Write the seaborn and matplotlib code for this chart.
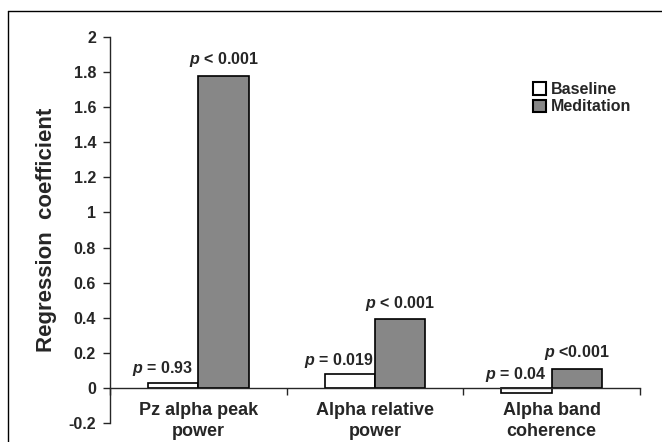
import pandas as pd
import matplotlib
matplotlib.use("Agg")
import matplotlib.pyplot as plt
from matplotlib.lines import Line2D
from matplotlib.patches import Patch
import seaborn as sns

# данные
categories = ["Pz alpha peak\npower", "Alpha relative\npower", "Alpha band\ncoherence"]
conditions = ["Baseline", "Meditation"]
baseline_vals = [0.03, 0.08, -0.03]
meditation_vals = [1.78, 0.39, 0.11]
baseline_p = ["$p$ = 0.93", "$p$ = 0.019", "$p$ = 0.04"]
meditation_p = ["$p$ < 0.001", "$p$ < 0.001", "$p$ <$\\mathit{0}$.001"]
yticks = [-0.2, 0, 0.2, 0.4, 0.6, 0.8, 1, 1.2, 1.4, 1.6, 1.8, 2]

df = pd.DataFrame({
    "category": categories * 2,
    "condition": ["Baseline"] * 3 + ["Meditation"] * 3,
    "value": baseline_vals + meditation_vals,
})

sns.set_style("ticks")
plt.rcParams["font.family"] = ["Liberation Sans", "DejaVu Sans"]
plt.rcParams["font.weight"] = "bold"
plt.rcParams["axes.unicode_minus"] = False
plt.rcParams["mathtext.fontset"] = "custom"
plt.rcParams["mathtext.it"] = "Liberation Sans:bold:italic"
plt.rcParams["mathtext.rm"] = "Liberation Sans:bold"

colors = {"Baseline": "white", "Meditation": "#878787"}

fig = plt.figure(figsize=(6.62, 4.42), dpi=100)
ax = fig.add_axes([110 / 662, 1 - 423 / 442, 530 / 662, (423 - 37) / 442])

sns.barplot(data=df, x="category", y="value", hue="condition", palette=colors,
            width=0.57, edgecolor="black", linewidth=1.2, ax=ax, legend=False)

ax.set_xlim(-0.5, 2.5)
ax.set_ylim(-0.2, 2.0)
ax.set_yticks(yticks)
ax.set_yticklabels([f"{v:g}" for v in yticks], fontsize=11.5, fontweight="bold")

ax.spines["top"].set_visible(False)
ax.spines["right"].set_visible(False)
ax.spines["bottom"].set_position(("data", 0))
ax.spines["left"].set_linewidth(1.0)
ax.spines["bottom"].set_linewidth(1.0)

ax.set_xticks(range(3))
ax.set_xticklabels(categories, fontsize=13, fontweight="bold", linespacing=1.3)
ax.tick_params(axis="x", which="major", length=0, pad=10)
ax.set_xticks([-0.5, 0.5, 1.5, 2.5], minor=True)
ax.tick_params(axis="x", which="minor", direction="out", length=5, width=1)
ax.tick_params(axis="y", direction="out", length=5, width=1, pad=5)

ax.set_xlabel("")
ax.set_ylabel("Regression  coefficient", fontsize=16, fontweight="bold", labelpad=8)

# подписи p-значений
for i in range(3):
    xb = i - 0.57 / 4
    xm = i + 0.57 / 4
    ax.annotate(baseline_p[i], (xb, max(baseline_vals[i], 0)), xytext=(-8, 3),
                textcoords="offset points", ha="center", va="bottom",
                fontsize=11.5, fontweight="bold")
    ax.annotate(meditation_p[i], (xm, meditation_vals[i]), xytext=(0, 5),
                textcoords="offset points", ha="center", va="bottom",
                fontsize=11.5, fontweight="bold")

handles = [Patch(facecolor=colors[c], edgecolor="black", linewidth=1.5) for c in conditions]
ax.legend(handles, conditions, loc="upper left", bbox_to_anchor=(0.786, 0.90),
          frameon=False, handlelength=0.8, handleheight=0.8, handletextpad=0.3,
          labelspacing=0.15, borderaxespad=0, prop={"weight": "bold", "size": 11.5})

# рамка рисунка
fig.add_artist(Line2D([8 / 662, 8 / 662], [0, 1 - 11 / 442], color="black", lw=1))
fig.add_artist(Line2D([8 / 662, 1], [1 - 11 / 442, 1 - 11 / 442], color="black", lw=1))

fig.savefig("out.png", dpi=100)
